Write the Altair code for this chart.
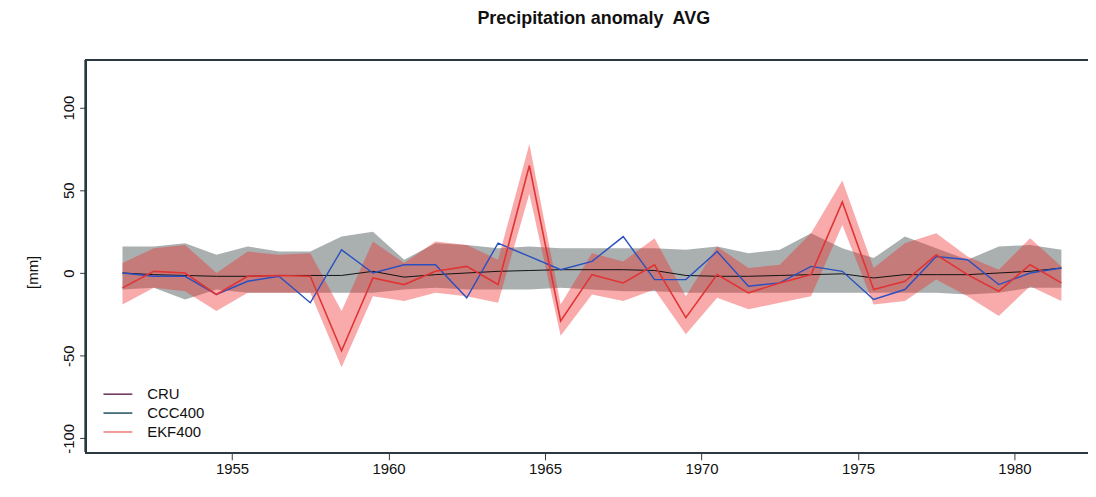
import altair as alt
import pandas as pd

# ---- data ----
years = [1951.5 + i for i in range(31)]

grey_top = [16, 16, 18, 11, 16, 13, 13, 22, 25, 8, 18, 17, 15, 16, 15, 15,
            15, 15, 14, 16, 12, 14, 24, 15, 9, 22, 15, 8, 16, 17, 14]
grey_bot = [-10, -9, -16, -10, -12, -12, -12, -12, -12, -10, -9, -10, -10, -10, -9, -10,
            -11, -11, -12, -12, -12, -12, -12, -12, -12, -12, -12, -13, -12, -9, -9]
cru = [0, -1, -1.5, -2, -2, -1.5, -1.5, -1.5, 1, -2.5, -1, 0, 1, 1.5, 2, 2,
       2, 1.5, -1.5, -2, -2, -1.5, -1, -0.5, -3, -1, -1, -1, 0, 1, 3]
ccc400 = [0, -2, -2, -13, -5, -2, -18, 14, 0, 5, 5, -15, 18, 10, 2, 7,
          22, -4, -4, 13, -8, -6, 4, 1, -16, -10, 10, 8, -7, 0, 3]
ekf400 = [-9, 1, 0, -13, -2, -1.5, -2, -47, -3, -7, 1, 4, -7, 65, -29, -1,
          -6, 5, -27, -1, -12, -6, -1, 43, -10, -5, 11, -1, -11, 5, -6]
ekf_top = [6, 15, 17, 0, 13, 11, 12, -23, 19, 6, 19, 17, 8, 78, -19, 12,
           7, 21, -14, 16, 3, 5, 24, 56, 3, 18, 24, 10, 2, 21, 4]
ekf_bot = [-19, -9, -11, -23, -12, -12, -12, -57, -14, -17, -12, -14, -18, 48, -38, -13,
           -17, -10, -37, -15, -22, -18, -14, 29, -19, -17, -4, -14, -26, -8, -17]

x_ticks = [1955, 1960, 1965, 1970, 1975, 1980]
y_ticks = [-100, -50, 0, 50, 100]

legend_labels = ["CRU", "CCC400", "EKF400"]
legend_colors = ["#6a2c55", "#1f4f5f", "#f07a7a"]

df = pd.DataFrame({
    "year": years, "grey_top": grey_top, "grey_bot": grey_bot,
    "cru": cru, "ccc400": ccc400, "ekf400": ekf400,
    "ekf_top": ekf_top, "ekf_bot": ekf_bot,
})

W, H = 1008, 395
FONT = "Liberation Sans"
AX = "#2b3a40"

xs = alt.Scale(domain=[1950.32, 1982.35], nice=False, zero=False)
ys = alt.Scale(domain=[-108.8, 128.8], nice=False, zero=False)

x_axis = alt.Axis(values=x_ticks, format="d", title=None, grid=False, domain=False,
                  tickSize=7, tickColor=AX, labelFont=FONT, labelFontSize=15,
                  labelColor="#111", labelPadding=2)
y_axis = alt.Axis(values=y_ticks, title="[mm]", grid=False, domain=False,
                  labelExpr="'' + datum.value",
                  tickSize=6, tickColor=AX, labelFont=FONT, labelFontSize=15,
                  labelColor="#111", labelAngle=270, labelAlign="center",
                  labelBaseline="bottom", labelPadding=3,
                  titleFont=FONT, titleFontSize=15, titleFontWeight="normal",
                  titleColor="#111", titleAngle=270, titleX=-53, titleY=213,
                  titleAlign="center", titleBaseline="middle")

base = alt.Chart(df)

grey = base.mark_area(color="#aaafb0", opacity=1).encode(
    x=alt.X("year:Q", scale=xs, axis=x_axis),
    y=alt.Y("grey_bot:Q", scale=ys, axis=y_axis),
    y2="grey_top:Q",
)
red_band = base.mark_area(color="#f02c2c", opacity=0.4).encode(
    x="year:Q", y="ekf_bot:Q", y2="ekf_top:Q"
)
line_cru = base.mark_line(color="#111111", strokeWidth=1).encode(x="year:Q", y="cru:Q")
line_ccc = base.mark_line(color="#2a4fc0", strokeWidth=1.4).encode(x="year:Q", y="ccc400:Q")
line_ekf = base.mark_line(color="#e03434", strokeWidth=1.6).encode(x="year:Q", y="ekf400:Q")

frame = [
    alt.Chart(df).mark_rule(color=AX, strokeWidth=1.2).encode(
        x=alt.value(0), x2=alt.value(W + 20), y=alt.value(0)),
    alt.Chart(df).mark_rule(color=AX, strokeWidth=1.2).encode(
        x=alt.value(0), x2=alt.value(W + 20), y=alt.value(H)),
    alt.Chart(df).mark_rule(color=AX, strokeWidth=1.2).encode(
        x=alt.value(0), y=alt.value(0), y2=alt.value(H)),
]

legend_layers = []
for k, (lab, col) in enumerate(zip(legend_labels, legend_colors)):
    ly = 336 + 19 * k
    ldf = pd.DataFrame({"label": [lab]})
    legend_layers.append(alt.Chart(ldf).mark_rule(color=col, strokeWidth=1.5).encode(
        x=alt.value(18), x2=alt.value(47), y=alt.value(ly)))
    legend_layers.append(alt.Chart(ldf).mark_text(
        align="left", baseline="middle", font=FONT, fontSize=15, color="#111").encode(
        x=alt.value(62), y=alt.value(ly), text="label:N"))

chart = alt.layer(grey, red_band, line_cru, line_ccc, line_ekf, *frame, *legend_layers).properties(
    width=W, height=H,
    title=alt.TitleParams("Precipitation anomaly\u00a0 AVG", font=FONT, fontSize=18,
                          fontWeight="bold", color="#111", anchor="middle", dx=7, offset=32),
    autosize=alt.AutoSizeParams(type="none"),
    padding={"left": 78, "top": 51, "right": 0, "bottom": 35},
).configure_view(stroke=None).configure(background="white")

chart.save("out.html", embed_options={"renderer": "svg", "actions": False})
